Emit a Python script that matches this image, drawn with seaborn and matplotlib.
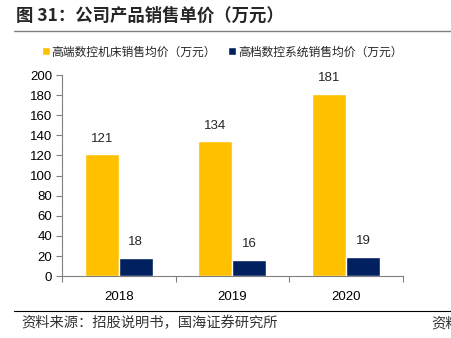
import matplotlib
matplotlib.use("Agg")
import matplotlib.pyplot as plt
import seaborn as sns
import pandas as pd
import numpy as np
from matplotlib.lines import Line2D

years = ["2018", "2019", "2020"]
series_names = ["高端数控机床销售均价（万元）", "高档数控系统销售均价（万元）"]
machine_price = [121, 134, 181]
system_price = [18, 16, 19]
colors = ["#FFC000", "#002060"]

sns.set_theme(style="white")
plt.rcParams['font.family'] = ['Liberation Sans', 'Noto Sans CJK SC', 'DejaVu Sans']

df = pd.DataFrame({
    "year": years * 2,
    "series": [series_names[0]] * 3 + [series_names[1]] * 3,
    "value": machine_price + system_price,
})

fig = plt.figure(figsize=(4.52, 3.38), dpi=100)
ax = fig.add_axes([0.137, 0.183, 0.754, 0.595])
sns.barplot(data=df, x="year", y="value", hue="series", palette=colors,
            width=0.6, saturation=1, ax=ax, legend=True)

ax.set_xlim(-0.5, 2.5)
ax.set_ylim(0, 200)
ax.set_yticks(range(0, 201, 20))
ax.set_xlabel("")
ax.set_ylabel("")
for s in ["top", "right"]:
    ax.spines[s].set_visible(False)
for s in ["left", "bottom"]:
    ax.spines[s].set_color("#808080")
    ax.spines[s].set_linewidth(0.8)
ax.tick_params(axis="y", left=True, length=4, color="#808080", width=0.8,
               labelsize=9.5, pad=3, labelcolor="black")
ax.tick_params(axis="x", bottom=False, labelsize=9.5, pad=5, labelcolor="black")
ax.set_xticks([-0.5, 0.5, 1.5, 2.5], minor=True)
ax.tick_params(axis="x", which="minor", bottom=True, length=4, color="#808080", width=0.8)

for c in ax.containers:
    ax.bar_label(c, fmt="%d", padding=7, fontsize=9.5)

leg = ax.legend(loc="center", bbox_to_anchor=(0.47, 1.115), ncol=2, frameon=False,
                fontsize=8.5, handlelength=0.7, handleheight=0.7, handletextpad=0.15,
                columnspacing=1.0, borderaxespad=0, borderpad=0)
for t in leg.get_texts():
    t.set_family(['Noto Sans CJK SC', 'DejaVu Sans'])

fig.text(0.035, 0.952, "图 31：公司产品销售单价（万元）", fontsize=12.5, fontweight="bold",
         family=['Noto Sans CJK SC', 'DejaVu Sans'], va="center", ha="left")
fig.add_artist(Line2D([0.03, 1.0], [0.907, 0.907], color="#808080", lw=1.0))
fig.add_artist(Line2D([0.03, 1.0], [0.08, 0.08], color="black", lw=0.8))
fig.text(0.048, 0.044, "资料来源：招股说明书，国海证券研究所", fontsize=10.3,
         family=['Noto Sans CJK SC', 'DejaVu Sans'], va="center", ha="left", color="#333333")
fig.text(0.955, 0.044, "资料", fontsize=10.3,
         family=['Noto Sans CJK SC', 'DejaVu Sans'], va="center", ha="left", color="#333333")

fig.savefig("out.png", dpi=100)
